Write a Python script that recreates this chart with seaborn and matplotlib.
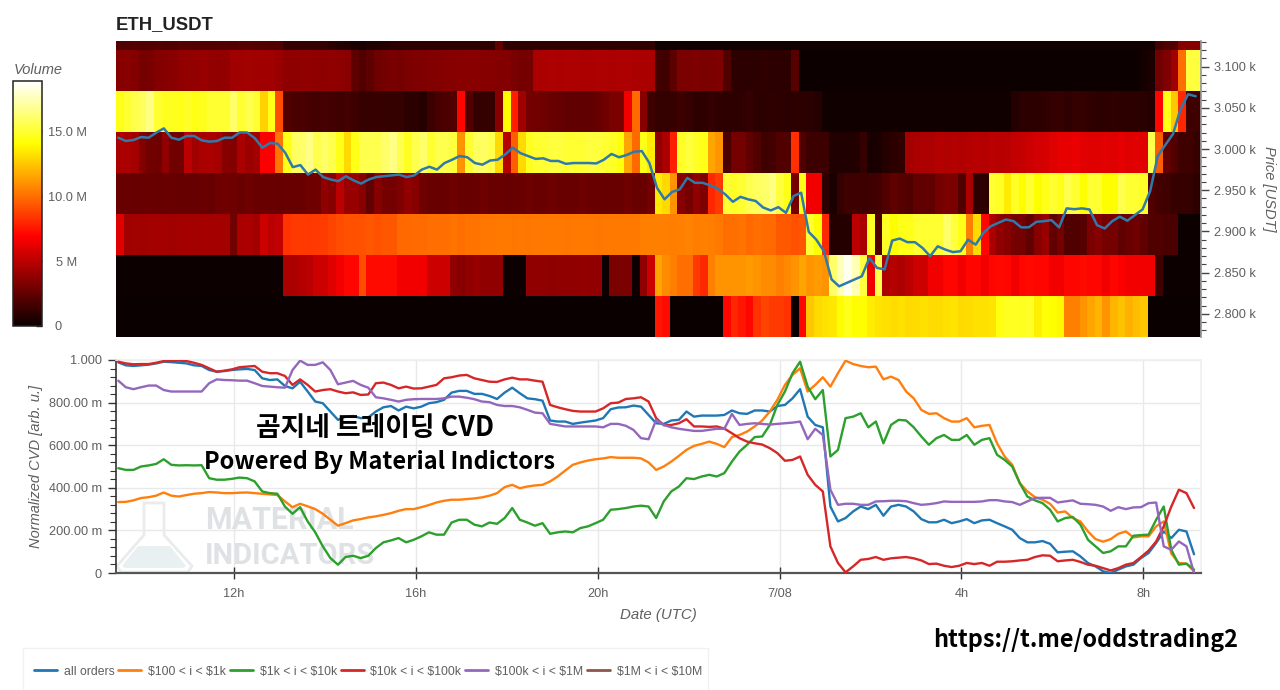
import numpy as np
import pandas as pd
import matplotlib
matplotlib.use('Agg')
import matplotlib.pyplot as plt
import seaborn as sns
from matplotlib.patches import Polygon, Rectangle
from matplotlib.ticker import MultipleLocator

# volume per price band (millions), one value per 10 minute column, top band first
vol_top = [2, 2, 2.1, 2, 2, 2.1, 2, 2, 2.2, 2.2, 2.1, 2, 2, 2.1, 2.1, 2, 2.2, 2.2, 2.1, 2.1, 2, 2,
           1.3, 1.3, 1.2, 1.2, 1.2, 1.2, 1, 0.8,
           0.6, 0.5, 0.5, 0.6, 0.7, 0.8, 0.9, 1, 1, 1, 1, 1, 1, 1, 1, 1, 1, 1, 1.1, 1.1,
           2.5] + [1.1] * 20 + [0.2] * 66 + [1.6, 2, 2, 3.5, 3.5, 3.5]
vol_3100 = [3.5, 3.6, 3.4, 3.0, 3.1, 3.4, 3.5, 3.6, 3.8, 3.9,
            3.9, 4.0, 3.9, 3.8, 3.9, 4.2, 4.2, 4.3, 4.2, 4.2,
            4.2, 4.0, 3.7, 3.7, 3.8, 3.8, 3.7, 3.7, 3.8, 3.7,
            3.6, 2.4, 2.0, 2.3, 2.8, 3.0, 3.1, 3.0, 3.2, 3.3,
            3.3, 3.4, 3.4, 3.5, 3.5, 3.6, 3.6, 3.6, 3.5, 3.5,
            3.4, 3.4, 3.2, 3.0, 3.0, 4.5, 4.5, 4.6, 4.5, 4.6,
            4.6, 4.5, 4.5, 4.6, 4.6, 4.5, 4.6, 4.6, 4.5, 4.5,
            4.5, 1.6, 1.5, 2.4, 3.2, 3.2, 3.3, 3.2, 3.2, 3.3,
            2.0, 1.0, 1.0, 0.9, 1.0, 1.1, 0.9, 1.0, 1.0, 2.2] + [0.1] * 45 + [0.3, 0.5, 2.9, 3.3, 4.2, 10, 15.2, 15.2]
vol_3050 = [14.5, 15, 15.5, 15.8, 16.5, 15, 14.6, 14.6, 14.5, 14.8,
            14.4, 14.6, 15, 15, 15, 16, 15, 15.5, 15, 12.8,
            14.5, 9, 2, 1.8, 1.8, 1.7, 1.6, 1.7, 1.6, 1.5,
            1.6, 1.4, 1.3, 1.2, 1.3, 1.3, 1.2, 1.2, 1.0, 0.9,
            0.8, 1.4, 1.7, 1.9, 2.0, 7, 2.0, 1.2, 1.2, 1.2,
            3.5, 14, 7.8, 4.2, 3.0, 2.9, 2.8, 2.7, 2.6, 2.5,
            2.5, 2.5, 2.5, 2.6, 2.8, 3.2, 3.2, 6.5, 9.8, 3.5,
            1.5, 1.2, 1.2, 1.3, 1.4, 1.2, 1.0, 1.1, 1.2, 1.1,
            1.0, 1.0, 1.1, 1.2, 1.0, 1.0, 1.1, 1.0, 0.9, 1.0, 1.0, 0.9, 0.8] + [0.15] * 25 + [
            0.8, 0.9, 1.0, 1.0, 1.1, 1.2, 1.2, 1.1, 1.2, 1.2, 1.1, 1.0, 1.0, 1.1, 1.0, 1.0, 1.0, 0.9, 0.8,
            7, 14.5, 12.5, 8, 1.5, 1.5]
vol_3000 = [4.5, 4.5, 4.4, 3.4, 2.9, 2.8, 3.8, 2.9, 2.9, 5.0,
            4.2, 4.5, 4.5, 4.4, 3.5, 3.4, 4.5, 4.1, 4.3, 6.8,
            6.8, 10.2, 14.5, 15.8, 16, 16.5, 15.5, 16, 15.5, 14.5,
            13, 14.5, 15.5, 15.5, 15.5, 16, 16.5, 15.5, 14.7, 15.5,
            16, 15, 15.5, 15.5, 15.2, 11, 15, 15.8, 15.9, 15.5,
            13, 4.8, 9.5, 13, 14.6, 15, 15, 15.2, 15.2, 15,
            15, 15, 15.2, 15.2, 15, 14.8, 14.2, 11.5, 9.8, 14.5,
            13.5, 3.8, 4.5, 7.8, 14.8, 15.2, 14.8, 14.5, 11.5, 11,
            1.8, 3.0, 3.0, 2.5, 2.0, 1.5, 1.6, 2.0, 2.0, 8.2,
            2.0, 1.4, 1.4, 1.4, 0.6, 0.6, 0.6, 0.7, 1.2, 0.4,
            0.5, 0.8, 1.0, 1.1, 4.4, 4.5, 4.6, 4.6, 4.8, 4.7,
            4.8, 4.7, 4.8, 4.9, 4.8, 5.0, 4.9, 5.0, 5.2, 5.3,
            5.5, 5.6, 5.8, 6.0, 6.2, 6.2, 6.3, 6.1, 6.0, 6.0,
            6.1, 6.0, 6.2, 6.0, 6.1, 6.0,
            15.5, 9.5, 2.5, 2.0, 1.5, 1.5, 1.2]
vol_2950 = [2.7, 2.7, 2.6, 2.7, 2.7, 2.6, 2.7, 2.7, 2.6, 2.6,
            2.6, 2.7, 2.6, 2.8, 2.8, 2.8, 2.7, 2.8, 2.7, 2.7,
            2.7, 2.6, 2.7, 2.7, 2.7, 2.8, 2.8, 3.8, 3.5, 5.0,
            4, 4, 3.5, 2.5, 3.5, 3.0, 3.0, 3.3, 3.8, 3.5,
            2.8, 2.7, 2.6, 2.7, 2.8, 2.7, 2.6, 2.7, 2.8, 2.7,
            2.7, 2.6, 2.7, 2.7, 2.8, 2.7, 2.7, 2.8, 2.7, 2.7,
            2.7, 2.8, 2.7, 2.7, 2.6, 2.7, 2.7, 2.8, 2.7, 2.7,
            3, 13.5, 13, 11, 3.5, 3.0, 3.8, 3.3, 8, 8.5,
            15, 14.8, 15, 15.5, 15.8, 16, 16.5, 15.2, 14.5, 3,
            14.5, 6.5, 6.5, 1.0, 0.5, 1.2, 1.5, 1.5, 1.4, 1.5,
            1.6, 2.0, 2.5, 2.2, 2.0, 2.5, 2.5, 2.5, 3, 3.2,
            3.2, 2.0, 4.5, 1.0, 1.0,
            15, 14.8, 13.5, 14.8, 14, 15, 14, 14.5, 15, 14.5, 15.5, 15, 14, 15, 15, 14, 14, 15.5, 15, 15, 14.8,
            2.0, 1.6, 1.5, 1.3, 1.3, 1.2, 1.0]
vol_2900 = [6, 4.2, 4.3, 4.2, 4.3, 4.4, 4.3, 4.2, 4.3, 4.4,
            4.3, 4.4, 4.3, 4.4, 4.3, 2.9, 4.5, 4.5, 4.2, 5.5,
            5, 5.2, 8.3, 8.5, 8.5, 8.4, 8.5, 8.6, 8.8, 9.0,
            9.2, 9.2, 9.2, 9.3, 9.2, 9.3, 9.3, 9.8, 9.8, 9.9,
            9.9, 10, 10, 10, 10.1, 10, 10.1, 10.1, 10.2, 10.2,
            10.3, 10.3, 10.2, 10.3, 10.2, 10.3, 10.3, 10.3, 10.3, 10.2,
            10.3, 10.3, 10.3, 10.2, 10.3, 10.3, 10.3, 10.3, 10.3, 10.4,
            10.5, 10.5, 10.5, 10.4, 10.5, 10.6, 10.4, 10.5, 10.4, 10.3,
            10, 10, 10.1, 9.8, 10, 9.9, 9.8, 9.4, 9.4, 9.2,
            9.3, 15, 14, 8, 0.8, 0.8, 0.8, 5, 4.5, 14.8,
            2.0, 14.8, 14, 14.5, 14.5, 15, 15, 15, 15, 16,
            15.2, 14.5, 10.5, 13, 7, 4.5, 3.8, 3.5, 3, 3,
            2.5, 3.5, 4, 2.5, 3, 2, 2, 2.2, 3.2, 3.5,
            3, 3, 2.5, 2.7, 2.8, 2.5, 2, 2, 1.8, 1.8,
            0.1, 0.1, 0.1]
vol_2850 = [0.1] * 22 + [4.5, 4.5, 4.8, 5, 5.5, 5.5, 6, 6.5,
            7, 7, 9, 7.2, 7.2, 7.2, 7.2, 6.5, 6.5, 6.5,
            6.5, 5.5, 5.5, 5.5, 3.8, 3.5, 3.8, 4, 3.8, 3.8,
            3.8, 0.1, 0.1, 0.1,
            3.8, 3.8, 3.8, 3.7, 3.8, 3.8, 3.8, 3.9, 3.8, 3.8,
            0.1, 3.2, 3.2, 3.2, 0.1, 3.8, 5.5,
            11.5, 10.8, 10.5, 10, 10, 8.5, 8, 10.5, 11,
            11, 11, 11, 11.2, 11, 10.8, 10.8, 10.5, 10.7, 11, 11.5, 11, 11.2, 11,
            16, 17.5, 18.5, 17.5, 15.2, 6.5, 15.5,
            4.6, 4.8, 4.6, 5, 5.5, 5.5, 6.5, 6.5,
            7, 7, 6.5, 7, 7, 6.5, 7, 7.1, 7, 6.5, 7, 7.1, 7, 7, 6.5, 6.5, 7, 7, 7.2, 7, 7, 6.5, 7, 6.8, 6.5, 6.5, 6.5, 6.5,
            1.5, 0.1, 0.1, 0.1, 0.1, 0.1]
vol_2800 = [0.05] * 71 + [7.5, 7.2] + [0.05] * 7 + [7, 8, 7.5, 7, 8.3, 8.8, 8.5, 8.5, 8.3, 0.05, 7,
            12.5, 13, 13.2, 13.4, 14, 14.5, 14, 14, 13.5,
            13.3, 13.2, 13.1, 13.2, 13, 13.1, 13.2, 13, 13.1, 13.2, 13.3, 13, 13.1, 13.2, 13.2,
            13.3, 14.3, 14.6, 14.7, 14.6, 14.8, 13.6, 14.2, 14, 13.8,
            10.5, 10.5, 11, 11.5, 12, 11, 12, 12.3, 11.8, 12.2, 12.5] + [0.05] * 7

# price and CVD, read every 10 minutes
price = [3013.7, 3009.7, 3010.9, 3014.5, 3013.7, 3019.8, 3025, 3013.7, 3011.3, 3015.8,
         3015.8, 3010.5, 3008.9, 3009.7, 3013.7, 3013.7, 3020.2, 3020, 3013, 3001.6,
         3007.3, 3006.4, 2995.5, 2978, 2980.5, 2969, 2975, 2966, 2963, 2961,
         2967, 2962, 2958, 2963, 2966, 2967, 2968, 2969, 2966, 2968,
         2975, 2978.5, 2975, 2983, 2987, 2991.5, 2990, 2983, 2981, 2986,
         2987, 2993.5, 3001.6, 2995, 2991.5, 2988, 2988.7, 2985.5, 2985.5, 2982,
         2983, 2983, 2983, 2982.5, 2987, 2994, 2990, 2992.7, 2996.7, 2997.5,
         2983, 2953, 2939, 2948, 2951, 2965, 2959, 2959, 2956, 2952,
         2945, 2936, 2942, 2939, 2937, 2929, 2925.5, 2929.5, 2922.6, 2943,
         2947, 2899.5, 2890, 2876, 2842, 2833.5, 2837.6, 2841.6, 2845.7, 2868,
         2855.8, 2854, 2889, 2891.4, 2887, 2887, 2880, 2870, 2882, 2878,
         2875, 2876, 2890, 2884, 2898, 2906.4, 2910.4, 2914.5, 2912.5, 2905,
         2905, 2911.7, 2912.5, 2913.7, 2905, 2928, 2927, 2928, 2926.7, 2907.6,
         2903.6, 2912.5, 2918, 2913, 2920, 2926.7, 2949, 2991.5, 3005, 3018,
         3048, 3066.4, 3064]

cvd_all = [989, 975, 972, 975, 978, 984, 992, 990, 987, 984,
           975, 972, 953, 945, 948, 953, 956, 958, 953, 914,
           906, 909, 878, 867, 898, 852, 805, 797, 758, 719,
           734, 737, 727, 730, 758, 778, 784, 763, 781, 773,
           781, 797, 802, 813, 847, 855, 855, 841, 841, 831,
           817, 847, 870, 844, 820, 816, 809, 716, 711, 711,
           700, 706, 711, 716, 727, 769, 777, 778, 786, 781,
           742, 703, 700, 716, 719, 758, 734, 739, 739, 739,
           742, 763, 750, 747, 763, 763, 758, 784, 789, 820,
           863, 734, 695, 684, 312, 242, 258, 289, 312, 300,
           320, 269, 312, 320, 312, 289, 253, 238, 238, 250,
           234, 242, 253, 234, 247, 250, 234, 219, 203, 164,
           144, 144, 150, 137, 97, 100, 102, 78, 47, 31,
           8, 0, 16, 31, 39, 70, 94, 141, 195, 164,
           203, 195, 88]
cvd_100_1k = [333, 334, 341, 352, 356, 363, 378, 363, 359, 366,
              372, 375, 380, 378, 375, 375, 377, 378, 375, 372,
              369, 366, 336, 309, 325, 313, 300, 278, 250, 222,
              234, 247, 253, 261, 266, 273, 281, 292, 300, 300,
              309, 319, 331, 339, 344, 344, 347, 350, 355, 363,
              375, 403, 414, 398, 406, 411, 414, 430, 453, 481,
              508, 519, 528, 534, 538, 544, 541, 541, 541, 538,
              519, 484, 500, 523, 550, 578, 597, 606, 617, 606,
              591, 638, 648, 664, 688, 716, 758, 813, 883, 930,
              961, 852, 883, 919, 875, 938, 997, 981, 972, 966,
              969, 909, 922, 906, 852, 820, 766, 747, 750, 727,
              711, 711, 727, 684, 691, 695, 609, 547, 508, 422,
              383, 356, 344, 325, 284, 289, 258, 242, 195, 159,
              147, 159, 184, 195, 167, 172, 172, 219, 242, 91,
              47, 44, 8]
cvd_1k_10k = [492, 484, 484, 500, 505, 512, 534, 508, 505, 506,
              505, 506, 445, 438, 438, 442, 448, 445, 430, 383,
              375, 372, 312, 278, 309, 242, 191, 125, 70, 39,
              75, 81, 70, 81, 117, 144, 153, 164, 144, 156,
              172, 191, 180, 180, 237, 250, 250, 227, 219, 237,
              231, 258, 305, 250, 237, 222, 234, 184, 191, 195,
              191, 211, 219, 234, 250, 297, 300, 305, 312, 316,
              312, 258, 336, 383, 406, 445, 441, 453, 461, 453,
              469, 523, 570, 602, 638, 641, 695, 789, 852, 938,
              992, 875, 816, 859, 547, 578, 727, 734, 750, 684,
              711, 609, 695, 719, 716, 684, 641, 602, 633, 648,
              625, 625, 648, 602, 625, 633, 555, 531, 500, 422,
              359, 341, 328, 297, 242, 258, 263, 227, 156, 125,
              94, 102, 125, 125, 175, 178, 180, 250, 312, 109,
              39, 44, 16]
cvd_10k_100k = [992, 984, 980, 981, 981, 987, 995, 995, 997, 995,
                987, 977, 961, 945, 950, 956, 966, 969, 972, 945,
                938, 938, 925, 883, 909, 883, 852, 859, 863, 852,
                844, 848, 836, 838, 891, 894, 883, 867, 875, 866,
                867, 875, 883, 914, 919, 927, 930, 914, 906, 898,
                897, 909, 917, 909, 909, 903, 898, 789, 778, 769,
                761, 758, 758, 758, 773, 797, 800, 817, 820, 825,
                805, 727, 694, 695, 703, 722, 688, 688, 686, 688,
                678, 656, 633, 617, 609, 603, 586, 563, 527, 531,
                547, 461, 414, 383, 125, 47, 3, 31, 62, 66,
                75, 62, 69, 72, 75, 69, 59, 42, 44, 34,
                28, 34, 47, 42, 47, 34, 53, 53, 55, 59,
                62, 75, 83, 81, 55, 59, 62, 52, 39, 34,
                23, 12, 23, 39, 47, 75, 105, 148, 219, 312,
                391, 375, 305]
cvd_100k_1m = [903, 872, 863, 872, 880, 880, 859, 852, 852, 852,
               852, 852, 891, 909, 906, 905, 903, 903, 891, 878,
               875, 872, 870, 953, 997, 977, 977, 989, 953, 886,
               894, 902, 883, 870, 825, 820, 813, 805, 813, 816,
               817, 817, 817, 820, 828, 828, 823, 816, 805, 802,
               789, 784, 784, 778, 766, 753, 750, 700, 694, 688,
               688, 688, 688, 688, 684, 700, 700, 691, 672, 633,
               628, 719, 695, 684, 677, 672, 667, 667, 672, 677,
               677, 747, 695, 700, 703, 700, 697, 700, 703, 706,
               711, 628, 677, 648, 391, 320, 325, 325, 320, 320,
               336, 337, 339, 339, 337, 328, 320, 323, 328, 336,
               334, 334, 334, 334, 336, 342, 342, 336, 333, 320,
               336, 352, 353, 353, 331, 336, 341, 325, 323, 320,
               312, 292, 309, 300, 308, 309, 328, 331, 125, 109,
               148, 125, 0]

series_names = ['all orders', '$100 < i < $1k', '$1k < i < $10k', '$10k < i < $100k',
                '$100k < i < $1M', '$1M < i < $10M']
series_colors = ['#1f77b4', '#ff7f0e', '#2ca02c', '#d62728', '#9467bd', '#8c564b']
hour_ticks = [12, 16, 20, 24, 28, 32]
hour_labels = ['12h', '16h', '20h', '7/08', '4h', '8h']
cvd_ticks = [0, 200, 400, 600, 800, 1000]
cvd_labels = ['0', '200.00 m', '400.00 m', '600.00 m', '800.00 m', '1.000']
price_ticks = [2800, 2850, 2900, 2950, 3000, 3050, 3100]
price_labels = ['2.800 k', '2.850 k', '2.900 k', '2.950 k', '3.000 k', '3.050 k', '3.100 k']
volume_ticks = [0, 5, 10, 15]
volume_labels = ['0', '5 M', '10.0 M', '15.0 M']

W, H = 1280, 690
GRAY = '#5f5f5f'

def px_axes(fig, left, top, right, bottom):
    return fig.add_axes([left / W, 1 - bottom / H, (right - left) / W, (bottom - top) / H])

sns.set_theme(style='white')
plt.rcParams['font.family'] = ['Liberation Sans', 'DejaVu Sans']

fig = plt.figure(figsize=(W / 100, H / 100), dpi=100)
ax_heat = px_axes(fig, 116, 41, 1201, 337)
ax_cbar = px_axes(fig, 13, 81, 42, 326)
ax_cvd = px_axes(fig, 116, 360, 1201, 573)

# heatmap
volume = pd.DataFrame([vol_top, vol_3100, vol_3050, vol_3000, vol_2950, vol_2900, vol_2850, vol_2800])
sns.heatmap(volume, ax=ax_heat, cmap='hot', vmin=0, vmax=18.85, cbar_ax=ax_cbar,
            xticklabels=False, yticklabels=False)
ax_heat.set_ylim(8, 0.78)
ax_heat.set_xlabel('')
ax_heat.set_ylabel('')
for s in ax_heat.spines.values():
    s.set_visible(False)

ax_price = ax_heat.twinx()
columns = np.arange(len(price)) + 0.3
sns.lineplot(x=columns, y=price, ax=ax_price, color='#2f7aab', lw=1.8)
ax_price.set_ylim(2772, 3131)
ax_price.set_yticks(price_ticks)
ax_price.set_yticklabels(price_labels)
ax_price.yaxis.set_minor_locator(MultipleLocator(10))
ax_price.tick_params(axis='y', which='major', right=True, direction='out', length=6, width=1, color='#444444',
                     labelcolor=GRAY, labelsize=9.2, pad=3)
ax_price.tick_params(axis='y', which='minor', right=True, direction='out', length=3.5, width=0.8, color='#444444')
ax_price.set_ylabel('Price [USDT]', rotation=270, style='italic', color=GRAY, fontsize=10.5, labelpad=15)
ax_price.grid(False)
for name, s in ax_price.spines.items():
    s.set_visible(name == 'right')
    s.set_color('#999999')

# colorbar
ax_cbar.set_yticks(volume_ticks)
ax_cbar.set_yticklabels(volume_labels, ha='center')
ax_cbar.tick_params(axis='y', direction='in', length=4, width=1, color='#222222', right=True, labelright=True,
                    left=False, labelleft=False, labelcolor=GRAY, labelsize=9.2, pad=18)
for label in ax_cbar.get_yticklabels():
    if label.get_text() == '0':
        label.set_x(0.7)
cbar = ax_heat.collections[0].colorbar
cbar.outline.set_visible(True)
cbar.outline.set_edgecolor('#222222')
cbar.outline.set_linewidth(1.1)

# CVD lines
hours = 9.4 + columns / 6
cvd = pd.DataFrame({'hours': hours, series_names[0]: cvd_all, series_names[1]: cvd_100_1k,
                    series_names[2]: cvd_1k_10k, series_names[3]: cvd_10k_100k,
                    series_names[4]: cvd_100k_1m})
cvd_long = cvd.melt(id_vars='hours', var_name='series', value_name='cvd')
sns.lineplot(data=cvd_long, x='hours', y='cvd', hue='series', hue_order=series_names[:5],
             palette=series_colors[:5], lw=1.7, ax=ax_cvd, legend=False, zorder=3)
ax_cvd.set_xlim(9.4, 33.27)
ax_cvd.set_ylim(0, 1000)
ax_cvd.set_xticks(hour_ticks)
ax_cvd.set_xticklabels(hour_labels)
ax_cvd.set_yticks(cvd_ticks)
ax_cvd.set_yticklabels(cvd_labels)
ax_cvd.yaxis.set_minor_locator(MultipleLocator(40))
ax_cvd.grid(True, axis='both', which='major', color='#e9e9e9', lw=1)
ax_cvd.set_axisbelow(True)
ax_cvd.tick_params(axis='x', which='major', bottom=True, direction='inout', length=8, width=1,
                   color='#333333', labelcolor=GRAY, labelsize=9.2, pad=7)
ax_cvd.tick_params(axis='y', which='major', left=True, direction='out', length=6, width=1,
                   color='#333333', labelcolor=GRAY, labelsize=9.2, pad=4)
ax_cvd.tick_params(axis='y', which='minor', left=True, direction='out', length=4, width=0.8, color='#333333')
ax_cvd.set_xlabel('Date (UTC)', style='italic', color=GRAY, fontsize=10.8, labelpad=5.5)
ax_cvd.set_ylabel('Normalized CVD [arb. u.]', style='italic', color=GRAY, fontsize=10.5, labelpad=4)
for name, s in ax_cvd.spines.items():
    s.set_color('#f0f0f0')
ax_cvd.spines['bottom'].set_color('#555555')
ax_cvd.spines['bottom'].set_linewidth(1.6)
ax_cvd.spines['left'].set_color('#333333')
ax_cvd.spines['left'].set_linewidth(1.2)

# watermark, under the lines
flask = [(144, 503), (164, 503), (164, 535), (192, 566), (188, 572), (121, 572), (117, 566), (144, 535)]
liquid = [(138, 546), (170, 546), (186, 566), (183, 568), (125, 568), (122, 566)]
to_fig = lambda pts: [(x / W, 1 - y / H) for x, y in pts]
ax_cvd.add_patch(Polygon(to_fig(flask), closed=True, transform=fig.transFigure, fill=False, ec='#e9ebec', lw=2,
                         zorder=1, clip_on=False))
ax_cvd.add_patch(Polygon(to_fig(liquid), closed=True, transform=fig.transFigure, fc='#e8f0f1', ec='none',
                         zorder=1, clip_on=False))
ax_cvd.text(205 / W, 1 - 520 / H, 'MATERIAL', family=['Liberation Sans Narrow', 'Roboto'], weight='bold',
            fontsize=22, color='#dfe2e4', va='center', zorder=1, transform=fig.transFigure)
ax_cvd.text(205 / W, 1 - 556 / H, 'INDICATORS', family=['Liberation Sans Narrow', 'Roboto'], weight='bold',
            fontsize=21, color='#dfe2e4', va='center', zorder=1, transform=fig.transFigure)

# overlay texts
cjk = ['Noto Sans CJK KR', 'DejaVu Sans']
fig.text(375 / W, 1 - 428 / H, '곰지네 트레이딩 CVD', family=cjk, weight='bold', fontsize=19.3, color='black',
         ha='center', va='center')
fig.text(380 / W, 1 - 462 / H, 'Powered By Material Indictors', family=cjk, weight='bold', fontsize=17,
         color='black', ha='center', va='center')
fig.text(1085.5 / W, 1 - 640 / H, 'https://t.me/oddstrading2', family=cjk, weight='bold', fontsize=16.8,
         color='black', ha='center', va='center')

fig.text(116 / W, 1 - 25 / H, 'ETH_USDT', weight='bold', fontsize=13.3, color='#222222', va='center')
fig.text(14 / W, 1 - 70 / H, 'Volume', style='italic', fontsize=10.5, color=GRAY, va='center')

# legend
fig.add_artist(Rectangle((23 / W, 1 - 700 / H), 685 / W, 52 / H, transform=fig.transFigure,
                         fc='white', ec='#f1f1f1', lw=1))
handles = [plt.Line2D([], [], color=c, lw=2) for c in series_colors]
legend = fig.legend(handles, series_names, ncol=6, loc='center left', bbox_to_anchor=(34 / W, 1 - 671.6 / H),
                    frameon=False, fontsize=8.8, handlelength=1.88, handletextpad=0.55, columnspacing=0.32,
                    borderpad=0, borderaxespad=0, labelcolor=GRAY)
for t in legend.get_texts():
    t.set_parse_math(False)

fig.savefig('out.png', dpi=100)
